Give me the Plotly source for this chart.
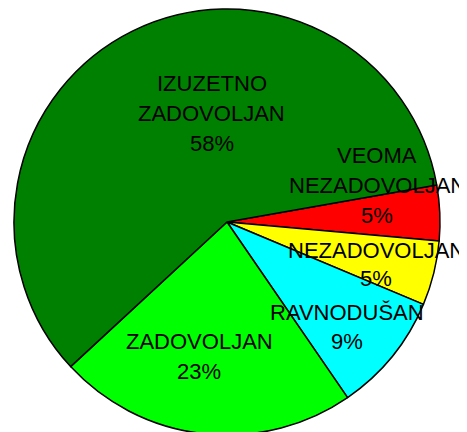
import plotly.graph_objects as go

# Data (slice shares; displayed percentages as printed)
labels = ["VEOMA NEZADOVOLJAN", "NEZADOVOLJAN", "RAVNODUŠAN", "ZADOVOLJAN", "IZUZETNO ZADOVOLJAN"]
values = [4.2, 4.9, 9.1, 22.7, 59.1]
shown_pct = [5, 5, 9, 23, 58]
colors = ["#FF0000", "#FFFF00", "#00FFFF", "#00FF00", "#008000"]

OFF = 8  # page body margin offset
W, H = 467 - OFF, 432
# label block centres (screen pixels) and line spacing
label_pos = [(377, 185, 30), (376, 264, 28), (347, 327, 28.5), (199, 356.5, 30), (211.5, 113, 30)]

# pie centre / radius in screen pixels
pcx, pcy, pr = 227 - OFF, 222 - OFF, 213
fig = go.Figure(go.Pie(
    labels=labels,
    values=values,
    sort=False,
    direction="clockwise",
    rotation=80,
    marker=dict(colors=colors, line=dict(color="#000000", width=1.5)),
    textinfo="none",
    hoverinfo="label+percent",
    showlegend=False,
    domain=dict(x=[(pcx - pr) / W, (pcx + pr) / W],
                y=[1 - (pcy + pr) / H, 1 - (pcy - pr) / H]),
))

annotations = []
for lab, pct, (cx, cy, sp) in zip(labels, shown_pct, label_pos):
    lines = lab.split(" ") + [f"{pct}%"]
    n = len(lines)
    for i, t in enumerate(lines):
        y = cy + (i - (n - 1) / 2) * sp - OFF
        annotations.append(dict(
            x=(cx - OFF) / W, y=1 - y / H, xref="paper", yref="paper",
            text=t, showarrow=False, xanchor="center", yanchor="middle",
            font=dict(family="Liberation Sans, Arial, sans-serif", size=22, color="#000000"),
        ))

fig.update_layout(
    width=W, height=H,
    margin=dict(l=0, r=0, t=0, b=0),
    paper_bgcolor="#FFFFFF",
    plot_bgcolor="#FFFFFF",
    annotations=annotations,
)

fig.write_html("out.html")
